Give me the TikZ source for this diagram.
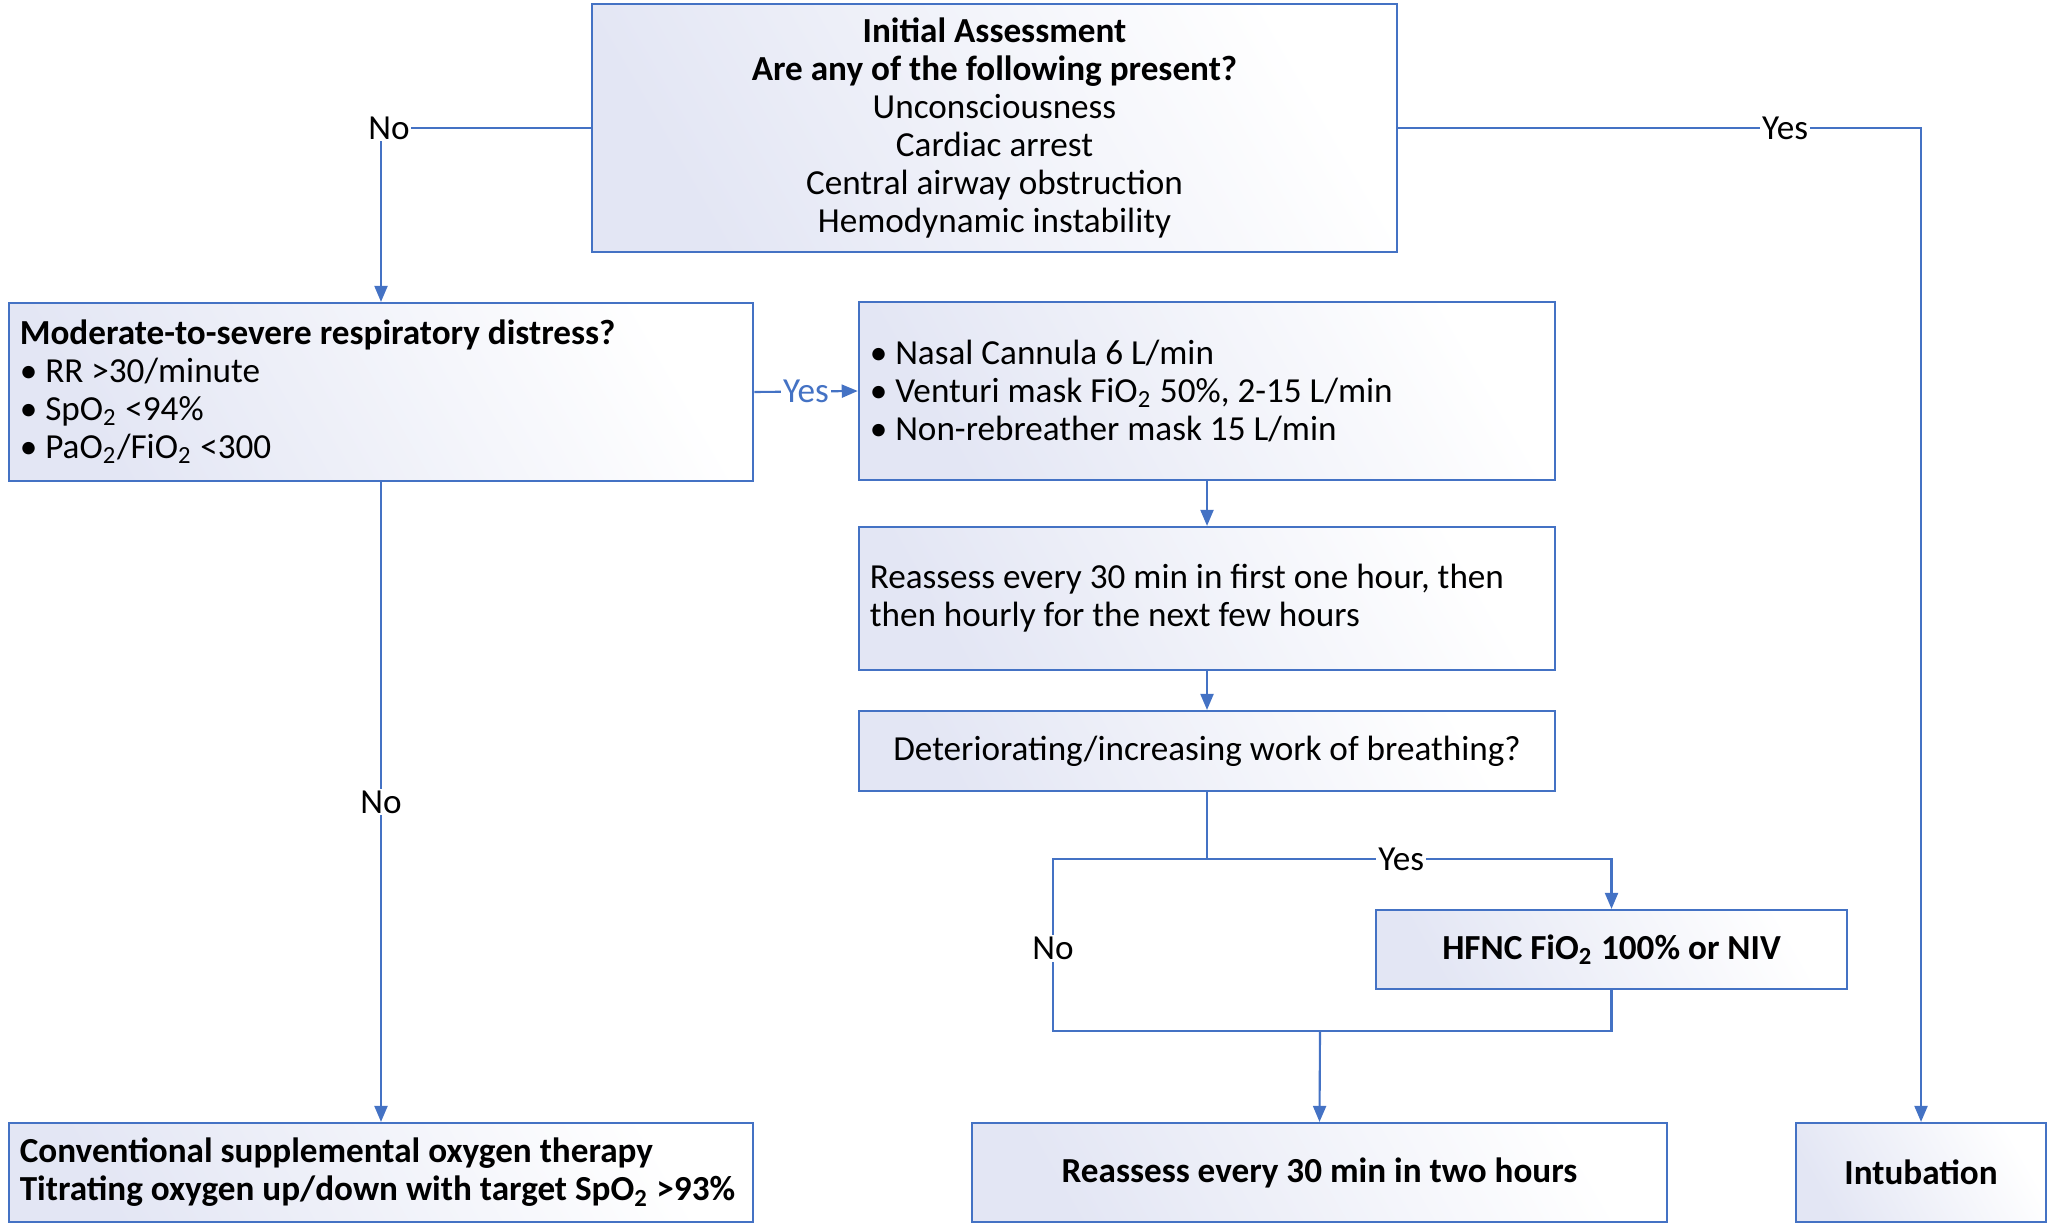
\documentclass[tikz,border=0pt]{standalone}
\usepackage{fontspec}
\setmainfont{Carlito}
\usepackage{tikz}
\usetikzlibrary{calc,positioning,arrows.meta}
\definecolor{lineblue}{HTML}{4472C4}
\definecolor{boxtint}{HTML}{E3E6F4}

\begin{document}
\begin{tikzpicture}[x=0.01cm, y=-0.01cm, font=\fontsize{10}{10.8}\selectfont,
  box/.style={draw=lineblue, line width=0.6pt, left color=boxtint, right color=white, shading angle=120, inner xsep=0.11cm, inner ysep=0pt},
  conn/.style={draw=lineblue, line width=0.6pt},
  arr/.style={conn, -{Triangle[length=1.6mm, width=1.3mm]}},
  lbl/.style={fill=white, inner sep=0.5pt}]
  \useasboundingbox (0,0) rectangle (2049,1224);

  \node[box, minimum width=8.05cm, minimum height=2.48cm, align=center] (init) at (994.5,128)
    {\textbf{Initial Assessment}\\ \textbf{Are any of the following present?}\\ Unconsciousness\\ Cardiac arrest\\ Central airway obstruction\\ Hemodynamic instability};
  \node[box, minimum width=7.44cm, minimum height=1.78cm, text width=7.22cm, align=flush left] (distress) at (381,392)
    {\textbf{Moderate-to-severe respiratory distress?}\\ \textbullet{} RR >30/minute\\ \textbullet{} SpO\textsubscript{2} <94\%\\ \textbullet{} PaO\textsubscript{2}/FiO\textsubscript{2} <300};
  \node[box, minimum width=6.96cm, minimum height=1.78cm, text width=6.74cm, align=flush left] (oxygen) at (1207,391)
    {\textbullet{} Nasal Cannula 6 L/min\\ \textbullet{} Venturi mask FiO\textsubscript{2} 50\%, 2-15 L/min\\ \textbullet{} Non-rebreather mask 15 L/min};
  \node[box, minimum width=6.96cm, minimum height=1.43cm, text width=6.74cm, align=flush left] (recheck) at (1207,598.5)
    {Reassess every 30 min in first one hour, then\\ then hourly for the next few hours};
  \node[box, minimum width=6.96cm, minimum height=0.8cm, align=center] (worse) at (1207,751)
    {Deteriorating/increasing work of breathing?};
  \node[box, minimum width=4.71cm, minimum height=0.79cm, align=center] (hfnc) at (1611.5,949.5)
    {\textbf{HFNC FiO\textsubscript{2} 100\% or NIV}};
  \node[box, minimum width=6.95cm, minimum height=0.99cm, align=center] (twohours) at (1319.5,1172.5)
    {\textbf{Reassess every 30 min in two hours}};
  \node[box, minimum width=7.44cm, minimum height=0.99cm, text width=7.22cm, align=flush left] (conventional) at (381,1172.5)
    {\textbf{Conventional supplemental oxygen therapy}\\ \textbf{Titrating oxygen up/down with target SpO\textsubscript{2} >93\%}};
  \node[box, minimum width=2.5cm, minimum height=0.99cm, align=center] (intubation) at (1921,1172.5)
    {\textbf{Intubation}};

  \coordinate (split) at (1207,859);
  \coordinate (nobend) at (1053,1031);
  \coordinate (merge) at (1320,1031);

  \draw[arr] (init.west) -| node[lbl, pos=0.5, xshift=0.08cm] {No} (distress.north);
  \draw[arr] (init.east) -| node[lbl, pos=0.37] {Yes} (intubation.north);
  \draw[arr] (distress.east) -- node[lbl, text=lineblue] {Yes} (oxygen.west);
  \draw[arr] (distress.south) -- node[lbl] {No} (conventional.north);
  \draw[arr] (oxygen.south) -- (recheck.north);
  \draw[arr] (recheck.south) -- (worse.north);
  \draw[conn] (worse.south) -- (split);
  \draw[arr] (split) -| node[lbl, pos=0.24] {Yes} (hfnc.north);
  \draw[conn] (split) -| node[lbl, pos=0.76] {No} (nobend) -- (merge);
  \draw[conn] (hfnc.south) |- (merge);
  \draw[arr] (merge) -- (twohours.north);
\end{tikzpicture}
\end{document}
